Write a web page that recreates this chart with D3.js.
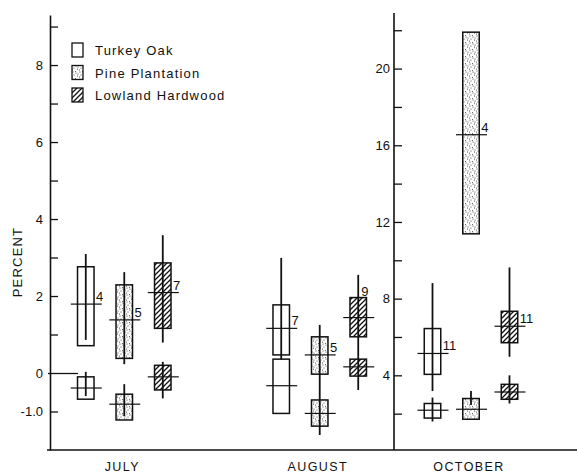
<!DOCTYPE html>
<html><head><meta charset="utf-8">
<script src="https://cdn.jsdelivr.net/npm/d3@7"></script>
<style>
html,body{margin:0;padding:0;background:#fff;}
svg{display:block;font-family:"Liberation Sans",Arial,sans-serif;}
</style>
</head><body>
<svg id="chart" width="577" height="476"></svg>
<script>
// ---------------- DATA ----------------
const months = ["JULY", "AUGUST", "OCTOBER"];
const species = ["Turkey Oak", "Pine Plantation", "Lowland Hardwood"];
// entries ordered: July (TO, PP, LH), August (TO, PP, LH), October (TO, PP, LH)
const entryMonth = ["JULY","JULY","JULY","AUGUST","AUGUST","AUGUST","OCTOBER","OCTOBER","OCTOBER"];
const entrySpecies = ["Turkey Oak","Pine Plantation","Lowland Hardwood",
                      "Turkey Oak","Pine Plantation","Lowland Hardwood",
                      "Turkey Oak","Pine Plantation","Lowland Hardwood"];

// upper set
const upperMean  = [1.79, 1.38, 2.09, 1.16, 0.47, 1.44, 5.14, 16.55, 6.56];
const upperBoxLo = [0.71, 0.38, 1.16, 0.47, -0.03, 0.94, 4.05, 11.38, 5.70];
const upperBoxHi = [2.76, 2.29, 2.86, 1.77, 0.94, 1.96, 6.44, 21.90, 7.34];
const upperMin   = [0.86, 0.23, 0.79, 0.29, -0.70, 0.42, 3.18, null, 4.97];
const upperMax   = [3.09, 2.62, 3.58, 2.99, 1.25, 2.55, 8.81, null, 9.63];
const upperN     = ["4", "5", "7", "7", "5", "9", "11", "4", "11"];

// lower set
const lowerMean  = [-0.39, -0.81, -0.10, -0.33, -1.05, 0.16, 2.18, 2.23, 3.13];
const lowerBoxLo = [-0.68, -1.22, -0.44, -1.05, -1.38, -0.08, 1.77, 1.71, 2.75];
const lowerBoxHi = [-0.10, -0.55, 0.20, 0.36, -0.70, 0.36, 2.53, 2.79, 3.53];
const lowerMin   = [-0.60, -1.12, -0.66, null, -1.61, -0.44, 1.59, 2.45, 2.53];
const lowerMax   = [0.03, -0.29, 0.29, null, -0.70, 0.42, 2.84, 3.18, 4.00];

// axis ticks
const leftMajorTicks = [8, 6, 4, 2, 0, -1];
const leftTickLabels = ["8", "6", "4", "2", "0", "-1.0"];
const leftMinorTicks = [9, 7, 5, 3, 1];
const rightMajorTicks = [20, 16, 12, 8, 4];
const rightTickLabels = ["20", "16", "12", "8", "4"];
const rightMinorTicks = [22, 18, 14, 10, 6, 2];

// --------------- LAYOUT ---------------
const svg = d3.select("#chart");
const W = 577, H = 476;
const leftAxisX = 50, rightAxisX = 394, baseY = 450;

const yLeft = d3.scaleLinear().domain([-2, 9.3]).range([baseY, 15]);
const yRight = d3.scaleLinear().domain([0, 22.9]).range([452, 13]);
const xLeft = d3.scalePoint().domain(["JULY", "AUGUST"]).range([leftAxisX, rightAxisX]).padding(0.38);
const xRight = d3.scalePoint().domain(["OCTOBER"]).range([rightAxisX, 548]).padding(0.5);
const xSub = d3.scalePoint().domain(species).range([-38.5, 38.5]);

const monthX = m => m === "OCTOBER" ? xRight(m) : xLeft(m);
const monthY = m => m === "OCTOBER" ? yRight : yLeft;

// patterns
const defs = svg.append("defs");
const hatch = defs.append("pattern").attr("id", "hatch").attr("patternUnits", "userSpaceOnUse")
  .attr("width", 5).attr("height", 5);
hatch.append("rect").attr("width", 5).attr("height", 5).attr("fill", "#fff");
hatch.append("path").attr("d", "M-1,6 L6,-1 M-1,1 L1,-1 M4,6 L6,4")
  .attr("stroke", "#111").attr("stroke-width", 1.3);

const stip = defs.append("pattern").attr("id", "stipple").attr("patternUnits", "userSpaceOnUse")
  .attr("width", 7).attr("height", 7);
stip.append("rect").attr("width", 7).attr("height", 7).attr("fill", "#fff");
[[1,1],[4,2],[2,4],[5.5,5],[0.5,6],[3.5,0.2],[6,3]].forEach(([cx, cy]) =>
  stip.append("circle").attr("cx", cx).attr("cy", cy).attr("r", 0.55).attr("fill", "#333"));

const fillFor = { "Turkey Oak": "#fff", "Pine Plantation": "url(#stipple)", "Lowland Hardwood": "url(#hatch)" };

// --------------- AXES ---------------
const leftAxis = d3.axisLeft(yLeft)
  .tickValues(leftMajorTicks.concat(leftMinorTicks))
  .tickSizeInner(-8).tickSizeOuter(0).tickPadding(7)
  .tickFormat(d => { const i = leftMajorTicks.indexOf(d); return i >= 0 ? leftTickLabels[i] : ""; });
const gL = svg.append("g").attr("transform", `translate(${leftAxisX},0)`).call(leftAxis);
gL.select(".domain").attr("stroke", "#111").attr("stroke-width", 1.6);
gL.selectAll(".tick line").attr("stroke", "#111").attr("stroke-width", 1.3);
gL.selectAll(".tick").filter(d => d === 0).select("line").attr("x2", 28).attr("x1", -2);
gL.selectAll(".tick text").attr("font-size", 13).attr("fill", "#111")
  .attr("font-family", "'Liberation Sans',Arial,sans-serif");

const rightAxis = d3.axisLeft(yRight)
  .tickValues(rightMajorTicks.concat(rightMinorTicks))
  .tickSizeInner(-8).tickSizeOuter(0).tickPadding(4)
  .tickFormat(d => { const i = rightMajorTicks.indexOf(d); return i >= 0 ? rightTickLabels[i] : ""; });
const gR = svg.append("g").attr("transform", `translate(${rightAxisX},0)`).call(rightAxis);
gR.select(".domain").attr("stroke", "#111").attr("stroke-width", 1.6)
  .attr("d", `M0,${yRight.range()[1]}V${baseY}`);
gR.selectAll(".tick line").attr("stroke", "#111").attr("stroke-width", 1.3);
gR.selectAll(".tick text").attr("font-size", 13).attr("fill", "#111")
  .attr("font-family", "'Liberation Sans',Arial,sans-serif");

// bottom axis line
svg.append("line").attr("x1", leftAxisX - 3).attr("x2", W).attr("y1", baseY).attr("y2", baseY)
  .attr("stroke", "#111").attr("stroke-width", 1.4);

// month labels
svg.selectAll("text.month").data(months).join("text").attr("class", "month")
  .attr("x", d => monthX(d) - 2).attr("y", 471).attr("text-anchor", "middle")
  .attr("font-size", 12.5).attr("letter-spacing", 1.4).attr("fill", "#111").text(d => d);

// y label
svg.append("text").attr("transform", "translate(22,262) rotate(-90)")
  .attr("text-anchor", "middle").attr("font-size", 13).attr("letter-spacing", 1.2)
  .attr("fill", "#111").text("PERCENT");

// --------------- MARKS ---------------
const boxW = 16.5;
function buildSet(mean, lo, hi, mn, mx, n) {
  return mean.map((m, i) => ({
    month: entryMonth[i], sp: entrySpecies[i], mean: m, lo: lo[i], hi: hi[i],
    min: mn[i], max: mx[i], n: n ? n[i] : null, idx: i
  }));
}
const sets = [
  buildSet(upperMean, upperBoxLo, upperBoxHi, upperMin, upperMax, upperN),
  buildSet(lowerMean, lowerBoxLo, lowerBoxHi, lowerMin, lowerMax, null)
];
// label placement: the August Lowland Hardwood count sits above its box
const labelAboveBox = new Set([5]);

sets.forEach((set, si) => {
  const g = svg.append("g");
  set.forEach(d => {
    const cx = monthX(d.month) + xSub(d.sp);
    const y = monthY(d.month);
    g.append("rect").attr("x", cx - boxW / 2).attr("width", boxW)
      .attr("y", y(d.hi)).attr("height", y(d.lo) - y(d.hi))
      .attr("fill", fillFor[d.sp]).attr("stroke", "#111").attr("stroke-width", 1.5);
    if (d.min !== null && d.max !== null) {
      g.append("line").attr("x1", cx).attr("x2", cx).attr("y1", y(d.max)).attr("y2", y(d.min))
        .attr("stroke", "#111").attr("stroke-width", 1.8);
    }
    g.append("line").attr("x1", cx - 15).attr("x2", cx + 16).attr("y1", y(d.mean)).attr("y2", y(d.mean))
      .attr("stroke", "#111").attr("stroke-width", 1.2);
    if (d.n) {
      const above = labelAboveBox.has(d.idx);
      g.append("text")
        .attr("x", above ? cx + 3 : cx + boxW / 2 + 2)
        .attr("y", above ? y(d.hi) - 2 : y(d.mean) - 3)
        .attr("font-size", 13).attr("fill", "#111").text(d.n);
    }
  });
});

// --------------- LEGEND ---------------
const leg = svg.append("g").attr("transform", "translate(72,43)");
species.forEach((s, i) => {
  const gy = i * 22.5;
  leg.append("rect").attr("x", 0).attr("y", gy).attr("width", 11).attr("height", 14)
    .attr("fill", fillFor[s]).attr("stroke", "#111").attr("stroke-width", 1.3);
  leg.append("text").attr("x", 23).attr("y", gy + 12).attr("font-size", 13)
    .attr("letter-spacing", 1.2).attr("fill", "#111").text(s);
});
</script>
</body></html>
